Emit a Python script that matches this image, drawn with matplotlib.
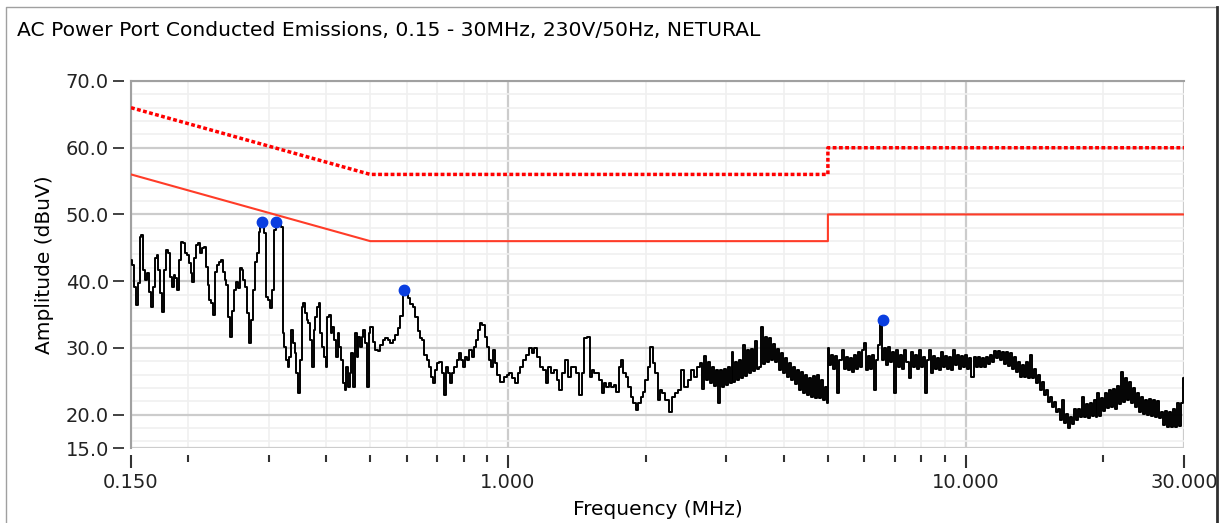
import numpy as np
import matplotlib.pyplot as plt
from matplotlib.lines import Line2D
from matplotlib.patches import Rectangle
from matplotlib.ticker import FixedLocator, FuncFormatter, NullFormatter

plt.rcParams['font.family'] = 'DejaVu Sans'

# measured trace, stored per sweep band: (start MHz, stop MHz, dBuV readings)
seg_a = [43.2, 42.4, 39.1, 36.4, 39.7, 46.6, 46.9, 41.7, 40.2, 41.2, 38.4, 36.1, 39.1, 43.5,
         43.9, 41.7, 38.2, 35.4, 41.7, 44.7, 44.2, 40.6, 39.1, 40.9, 40.5, 38.7, 43.2, 45.9,
         45.7, 44.2, 43.9, 42.7, 41.2, 39.9, 43.5, 45.4, 45.7, 44.2, 45.0, 45.1, 42.1, 39.4,
         37.2, 36.7, 34.9, 41.4, 42.4, 42.9, 43.2, 41.4, 40.2, 39.4, 34.6, 31.6, 35.6, 38.7,
         39.9, 39.0, 42.0, 41.7, 40.2, 39.1, 35.2, 30.7, 34.2, 38.7, 42.9, 44.2, 47.4, 48.1,
         48.1, 47.2, 37.6, 37.2, 36.0, 38.7, 47.7, 48.1, 48.6, 48.4, 48.1]
seg_b1 = [32.2, 30.1, 28.2, 27.1, 28.6, 32.7, 30.7, 29.2, 26.2, 23.2, 28.2, 36.1, 36.7, 35.2,
          34.2, 33.7, 31.2, 27.1, 32.7, 34.6, 36.1, 36.7, 32.2, 30.1, 28.6, 27.1, 34.6, 34.9,
          32.2, 33.1, 31.2, 28.6, 32.2, 30.1, 28.2, 24.7, 23.7, 27.1, 24.1, 26.2, 29.2, 24.1,
          32.2, 28.6, 31.6, 30.1, 31.6, 32.7, 30.7, 24.1, 32.2]
seg_b2 = [33.1, 30.9, 29.7, 29.5, 30.4, 31.2, 31.5, 31.2, 30.7, 31.2, 31.9, 33.0, 34.8, 38.0,
          38.4, 37.5, 36.6, 36.1, 34.6, 32.5, 31.5]
seg_c1 = [31.2, 28.9, 28.2, 27.1, 25.6, 24.7, 26.7, 27.7, 27.9, 26.2, 22.9, 27.1, 26.2, 24.7,
          26.2, 27.1, 28.2, 29.2, 28.2, 27.1, 28.6, 28.2, 29.7, 28.6, 30.1, 31.2, 32.7, 33.7,
          33.4, 31.6, 30.1, 28.2, 27.1, 29.7, 27.7, 25.9]
seg_c2 = [24.9, 25.6, 25.9, 26.2, 25.5, 24.7, 26.2, 27.1, 28.2, 28.9, 30.0, 29.2, 30.0, 28.6,
          27.1, 26.7, 24.7, 27.1, 26.2, 26.7, 25.2, 23.7, 26.2, 28.2, 25.6, 27.1, 27.1, 26.2,
          22.9, 26.2, 31.5, 31.6]
seg_c3 = [25.6, 26.7, 26.2, 26.2, 25.2, 23.2, 24.7, 24.1, 24.7, 24.1, 24.4, 23.4, 27.1, 28.2,
          26.2, 25.6, 24.1, 22.6, 21.7, 20.7, 21.7, 22.6, 23.4, 25.2, 27.1, 30.1, 27.7, 26.2,
          22.2]
seg_c4 = [23.7, 23.2, 22.2, 20.4, 22.6, 23.2, 23.7, 26.7, 24.1, 25.2, 26.7, 25.6, 27.1]
seg_d = [27.7, 23.9, 28.8, 25.2, 27.9, 24.7, 27.1, 24.3, 26.7, 21.7, 26.7, 24.1, 26.9, 24.4,
         27.2, 24.7, 29.4, 24.9, 27.9, 25.2, 28.2, 25.5, 30.4, 25.8, 29.7, 26.2, 29.9, 26.5,
         31.0, 26.9, 27.1, 33.1, 27.6, 31.6, 27.9, 31.5, 28.2, 30.6, 27.9, 29.8, 26.7, 29.2,
         26.2, 28.5, 25.6, 27.7, 25.2, 27.2, 24.6, 26.7, 23.7, 26.4, 23.3, 25.9, 22.9, 25.5,
         22.6, 25.8, 22.5, 25.9, 22.5, 25.2, 22.2, 24.1, 21.7]
seg_e = [30.0, 27.4, 28.9, 26.9, 28.8, 23.2, 28.2, 29.7, 26.9, 28.6, 26.7, 28.5, 26.4, 28.9,
         26.9, 29.4, 27.2, 29.7, 30.7, 26.7, 28.8, 26.9, 29.0, 23.7, 28.2, 30.4, 34.2, 28.2,
         30.0, 27.4, 30.1, 27.9, 29.4, 23.2, 29.7, 27.2, 28.9, 26.9, 29.7, 27.9, 25.5, 29.4,
         27.2, 29.0, 26.9, 29.7, 27.1, 28.6, 23.2, 28.2, 29.7, 26.2, 28.8, 26.9, 28.5, 26.7,
         29.4, 27.2, 28.8, 26.9, 28.6, 26.7, 29.7, 27.4, 29.0, 26.9, 28.8, 27.2, 28.9, 26.9,
         28.5, 25.6, 28.6, 27.2, 28.6, 27.1, 28.5, 27.2, 28.6, 27.6, 29.0, 27.9, 29.5, 28.5]
seg_f = [29.5, 28.2, 29.4, 27.6, 29.4, 27.3, 29.2, 26.8, 28.6, 26.4, 27.9, 25.6, 27.4, 25.6,
         27.9, 25.5, 28.9, 25.5, 26.9, 24.7, 26.0, 23.7, 24.9, 22.9, 23.7, 21.9, 22.6, 21.1,
         21.9, 20.4, 20.9, 19.2, 22.2, 18.7, 20.1, 18.0, 19.6, 18.6, 20.8, 19.2, 20.9, 19.6,
         22.6, 19.6, 21.6, 19.5, 21.7, 19.8, 22.2, 19.6, 23.2, 19.8, 22.5, 20.5, 23.2, 21.0,
         23.7, 21.1, 23.8, 20.8, 24.3, 21.6, 26.4, 21.9, 25.5, 22.2, 24.9, 21.7, 24.0, 21.1,
         23.2, 20.4, 22.6, 20.1, 22.2, 19.9, 22.3, 19.8, 22.2, 19.6, 22.0, 19.5, 20.4, 18.4,
         20.5, 18.1, 20.4, 18.1, 20.9, 18.1, 21.7, 18.3, 21.7, 25.5]

bands = [(0.150, 0.321, seg_a), (0.323, 0.498, seg_b1), (0.503, 0.647, seg_b2),
         (0.653, 0.953, seg_c1), (0.972, 1.500, seg_c2), (1.515, 2.135, seg_c3),
         (2.156, 2.610, seg_c4), (2.638, 4.990, seg_d), (5.010, 11.70, seg_e),
         (11.83, 30.00, seg_f)]

# EN 55022 class B limits
lim_freq = [0.15, 0.5, 5.0, 5.0, 30.0]
lim_qp = [66, 56, 56, 60, 60]
lim_av = [56, 46, 46, 50, 50]

# peak markers
peak_freq = [0.290, 0.311, 0.591, 6.59]
peak_amp = [48.9, 48.9, 38.7, 34.2]

freq = np.concatenate([np.geomspace(lo, hi, len(v)) for lo, hi, v in bands])
amp = np.concatenate([v for lo, hi, v in bands])

W, H = 1220, 523
fig = plt.figure(figsize=(W / 100, H / 100), dpi=100)
ax = fig.add_axes([131 / W, 1 - 448 / H, (1184 - 131) / W, (448 - 81) / H])

ax.set_xscale('log')
ax.set_xlim(0.15, 30)
ax.set_ylim(15, 70)

ax.xaxis.set_major_locator(FixedLocator([0.15, 1, 10, 30]))
ax.xaxis.set_major_formatter(FuncFormatter(lambda v, p: '%.3f' % v))
ax.xaxis.set_minor_locator(FixedLocator([0.2, 0.3, 0.4, 0.5, 0.6, 0.7, 0.8, 0.9,
                                         2, 3, 4, 5, 6, 7, 8, 9, 20]))
ax.xaxis.set_minor_formatter(NullFormatter())
ax.yaxis.set_major_locator(FixedLocator([15, 20, 30, 40, 50, 60, 70]))
ax.yaxis.set_major_formatter(FuncFormatter(lambda v, p: '%.1f' % v))
ax.yaxis.set_minor_locator(FixedLocator([v for v in range(16, 70, 2) if v % 10]))

ax.tick_params(axis='x', which='major', length=9, width=1.5, color='#333333',
               labelsize=14, pad=4, labelcolor='#222222')
ax.tick_params(axis='x', which='minor', length=5, width=1.5, color='#333333')
ax.tick_params(axis='y', which='major', length=8, width=1.3, color='#333333',
               labelsize=14, pad=3, labelcolor='#222222')
ax.tick_params(axis='y', which='minor', length=0)

ax.grid(which='major', color='#cccccc', lw=1.6)
ax.grid(which='minor', color='#f0f0f0', lw=1.2)
gx = ax.get_xgridlines()
gx[0].set_visible(False)
gx[-1].set_visible(False)
ax.get_ygridlines()[0].set_visible(False)

for side in ['left', 'bottom']:
    ax.spines[side].set_position(('outward', 5))
    ax.spines[side].set_visible(False)
ax.spines['right'].set_visible(False)
ax.spines['top'].set_color('#a0a0a0')
ax.spines['top'].set_linewidth(1.5)
ax.axvline(0.15, color='#a0a0a0', lw=1.5, clip_on=False)

ax.plot(lim_freq, lim_av, color='#ff3c28', lw=1.5, zorder=3)
ax.plot(lim_freq, lim_qp, color='#ff0000', lw=2.5, ls=(0, (1.1, 0.7)), zorder=3)
ax.plot(freq, amp, color='black', lw=1.4, drawstyle='steps-mid', zorder=4)
ax.plot(peak_freq, peak_amp, 'o', color='#0a3ee0', ms=7.5, zorder=5)

ax.set_xlabel('Frequency (MHz)', fontsize=14.5, labelpad=6)
ax.set_ylabel('Amplitude (dBuV)', fontsize=14.5, labelpad=8)

fig.text(17 / 100, (H - 31) / 100, 'AC Power Port Conducted Emissions, 0.15 - 30MHz, 230V/50Hz, NETURAL',
         fontsize=14.6, va='center', ha='left', transform=fig.dpi_scale_trans)

# window frame
fig.add_artist(Line2D([0.06, 0.06, 12.17], [0, (H - 7) / 100, (H - 7) / 100],
                      color='#a0a0a0', lw=1, transform=fig.dpi_scale_trans))
fig.add_artist(Rectangle((12.175, 0), 0.05, H / 100, color='white',
                         transform=fig.dpi_scale_trans, zorder=10))
fig.add_artist(Line2D([12.165, 12.165], [0, (H - 7) / 100], color='#303030', lw=2,
                      transform=fig.dpi_scale_trans, zorder=11))

fig.savefig('out.png', dpi=100)
